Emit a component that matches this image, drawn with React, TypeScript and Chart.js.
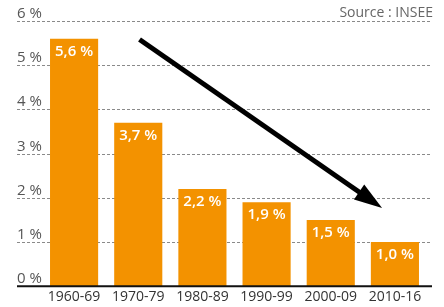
import React, { useEffect, useRef } from "react";
import { Chart, registerables } from "chart.js";

Chart.register(...registerables);

const categories = ["1960-69", "1970-79", "1980-89", "1990-99", "2000-09", "2010-16"];
const values = [5.6, 3.7, 2.2, 1.9, 1.5, 1.0];
const valueLabels = ["5,6 %", "3,7 %", "2,2 %", "1,9 %", "1,5 %", "1,0 %"];
const yTicks = [0, 1, 2, 3, 4, 5, 6];
const yTickLabels = ["0 %", "1 %", "2 %", "3 %", "4 %", "5 %", "6 %"];
const sourceText = "Source : INSEE";
// arrow start/end in data space: [category index, value]
const arrowStart = [1.02, 5.58];
const arrowEnd = [4.8, 1.77];

const FONT = "'Open Sans', 'DejaVu Sans', sans-serif";
const ORANGE = "#F39200";

const overlay = {
  id: "overlay",
  beforeDatasetsDraw(chart: any) {
    const { ctx, scales } = chart;
    const y = scales.y;
    const x0 = 17;
    const x1 = 432;
    ctx.save();
    yTicks.forEach((t, i) => {
      const py = Math.round(y.getPixelForValue(t)) + 0.5;
      if (t !== 0) {
        ctx.strokeStyle = "#8a8a8a";
        ctx.lineWidth = 1;
        ctx.setLineDash([3, 2]);
        ctx.beginPath();
        ctx.moveTo(x0, py);
        ctx.lineTo(x1, py);
        ctx.stroke();
      }
      ctx.setLineDash([]);
      ctx.fillStyle = "#555";
      ctx.font = `15px ${FONT}`;
      ctx.textAlign = "left";
      ctx.textBaseline = "bottom";
      ctx.fillText(yTickLabels[i], x0, py);
    });
    ctx.restore();
  },
  afterDatasetsDraw(chart: any) {
    const { ctx, scales } = chart;
    const x = scales.x;
    const y = scales.y;
    ctx.save();
    // baseline
    const by = y.getPixelForValue(0);
    ctx.strokeStyle = "#111";
    ctx.lineWidth = 2;
    ctx.beginPath();
    ctx.moveTo(17, by);
    ctx.lineTo(432, by);
    ctx.stroke();
    // bar labels
    const meta = chart.getDatasetMeta(0);
    ctx.fillStyle = "#fff";
    ctx.font = `600 15px ${FONT}`;
    ctx.textAlign = "center";
    ctx.textBaseline = "middle";
    meta.data.forEach((bar: any, i: number) => {
      ctx.fillText(valueLabels[i], bar.x, bar.y + 13);
    });
    // arrow
    const sx = x.getPixelForValue(arrowStart[0]);
    const sy = y.getPixelForValue(arrowStart[1]);
    const ex = x.getPixelForValue(arrowEnd[0]);
    const ey = y.getPixelForValue(arrowEnd[1]);
    const ang = Math.atan2(ey - sy, ex - sx);
    const headLen = 28;
    const headW = 9;
    const bx = ex - headLen * Math.cos(ang);
    const byy = ey - headLen * Math.sin(ang);
    ctx.strokeStyle = "#000";
    ctx.fillStyle = "#000";
    ctx.lineWidth = 5;
    ctx.lineCap = "butt";
    ctx.beginPath();
    ctx.moveTo(sx, sy);
    ctx.lineTo(bx + 4 * Math.cos(ang), byy + 4 * Math.sin(ang));
    ctx.stroke();
    ctx.beginPath();
    ctx.moveTo(ex, ey);
    ctx.lineTo(bx + headW * Math.sin(ang), byy - headW * Math.cos(ang));
    ctx.lineTo(bx - headW * Math.sin(ang), byy + headW * Math.cos(ang));
    ctx.closePath();
    ctx.fill();
    // source
    ctx.fillStyle = "#666";
    ctx.font = `14px ${FONT}`;
    ctx.textAlign = "right";
    ctx.textBaseline = "bottom";
    ctx.fillText(sourceText, 433, 20);
    ctx.restore();
  },
};

export default function App() {
  const ref = useRef<HTMLCanvasElement>(null);
  useEffect(() => {
    document.body.style.margin = "0";
    const chart = new Chart(ref.current!, {
      type: "bar",
      data: {
        labels: categories,
        datasets: [
          {
            data: values,
            backgroundColor: ORANGE,
            categoryPercentage: 1,
            barPercentage: 0.75,
          },
        ],
      },
      options: {
        animation: false,
        responsive: false,
        layout: { padding: { left: 42, right: 17, top: 21, bottom: 0 } },
        plugins: { legend: { display: false }, tooltip: { enabled: false } },
        scales: {
          x: {
            grid: { display: false, drawTicks: false },
            border: { display: false },
            ticks: { color: "#333", font: { family: FONT, size: 14 }, padding: 2, maxRotation: 0 },
          },
          y: {
            display: false,
            min: 0,
            max: 6,
          },
        },
      },
      plugins: [overlay],
    });
    return () => chart.destroy();
  }, []);
  return <canvas ref={ref} width={444} height={307} style={{ display: "block" }} />;
}
